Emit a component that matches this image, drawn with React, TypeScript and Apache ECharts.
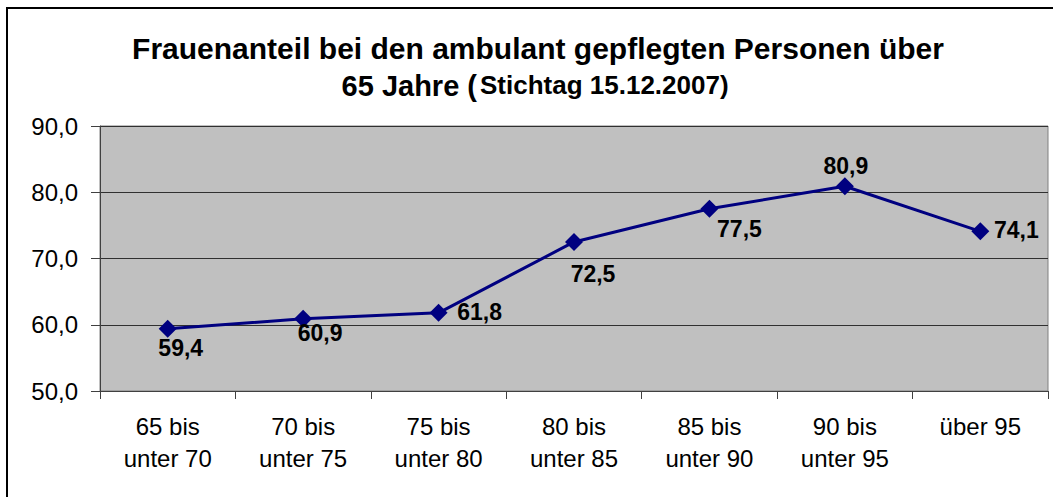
import React, { useEffect, useRef } from "react";
import * as echarts from "echarts";

const categories = [
  "65 bis\nunter 70",
  "70 bis\nunter 75",
  "75 bis\nunter 80",
  "80 bis\nunter 85",
  "85 bis\nunter 90",
  "90 bis\nunter 95",
  "über 95",
];
const values = [59.4, 60.9, 61.8, 72.5, 77.5, 80.9, 74.1];
const labelOffsets: [number, number][] = [
  [13, 19],
  [17, 14],
  [41, -1],
  [19, 32],
  [30, 20],
  [1, -20],
  [36, -1],
];
const titleLine1 = "Frauenanteil bei den ambulant gepflegten Personen über";
const titleLine2a = "65 Jahre (";
const titleLine2b = "Stichtag 15.12.2007)";

const FONT = '"Liberation Sans", Arial, sans-serif';
const fmt = (v: number) => v.toFixed(1).replace(".", ",");

export default function App() {
  const ref = useRef<HTMLDivElement>(null);
  useEffect(() => {
    document.body.style.margin = "0";
    const chart = echarts.init(ref.current!, null, { renderer: "svg" });
    chart.setOption({
      animation: false,
      backgroundColor: "#fff",
      grid: {
        left: 100,
        top: 126,
        right: 5,
        bottom: 106,
        show: true,
        backgroundColor: "#C0C0C0",
        borderColor: "#808080",
        borderWidth: 1,
      },
      graphic: [
        {
          type: "rect",
          shape: { x: 7, y: 8, width: 1100, height: 600 },
          style: { fill: "none", stroke: "#000", lineWidth: 2 },
          silent: true,
        },
        {
          type: "text",
          x: 538,
          y: 48,
          style: {
            text: titleLine1,
            font: `bold 30px ${FONT}`,
            fill: "#000",
            align: "center",
            verticalAlign: "middle",
          },
        },
        {
          type: "text",
          x: 477,
          y: 100,
          style: {
            text: titleLine2a,
            font: `bold 29px ${FONT}`,
            fill: "#000",
            align: "right",
            verticalAlign: "bottom",
          },
        },
        {
          type: "text",
          x: 480,
          y: 98,
          style: {
            text: titleLine2b,
            font: `bold 26px ${FONT}`,
            fill: "#000",
            align: "left",
            verticalAlign: "bottom",
          },
        },
      ],
      xAxis: {
        type: "category",
        data: categories,
        boundaryGap: true,
        axisLine: { lineStyle: { color: "#404040", width: 1 } },
        axisTick: { show: true, length: 8, lineStyle: { color: "#404040" } },
        axisLabel: {
          color: "#000",
          fontFamily: FONT,
          fontSize: 24,
          lineHeight: 32,
          margin: 19,
          verticalAlign: "top",
          interval: 0,
        },
      },
      yAxis: {
        type: "value",
        min: 50,
        max: 90,
        interval: 10,
        axisLine: { show: true, lineStyle: { color: "#404040", width: 1 } },
        axisTick: { show: true, length: 9, lineStyle: { color: "#404040" } },
        axisLabel: {
          color: "#000",
          fontFamily: FONT,
          fontSize: 24,
          margin: 22,
          formatter: (v: number) => fmt(v),
        },
        splitLine: { show: true, lineStyle: { color: "#303030", width: 1 } },
      },
      series: [
        {
          type: "line",
          data: values.map((v, i) => ({
            value: v,
            label: {
              show: true,
              position: "inside",
              offset: labelOffsets[i],
            },
          })),
          symbol: "diamond",
          symbolSize: 18,
          lineStyle: { color: "#000080", width: 3 },
          itemStyle: { color: "#000080" },
          label: {
            show: true,
            color: "#000",
            fontFamily: FONT,
            fontWeight: "bold",
            fontSize: 23,
            formatter: (p: any) => fmt(p.value),
          },
        },
      ],
    });
    return () => chart.dispose();
  }, []);
  return <div ref={ref} style={{ width: 1053, height: 497 }} />;
}
